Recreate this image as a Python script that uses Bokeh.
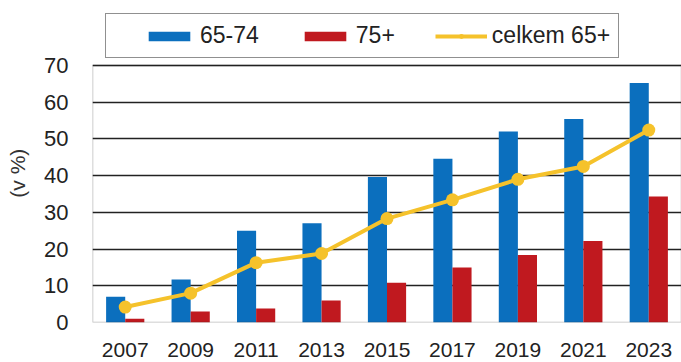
from bokeh.plotting import figure
from bokeh.models import (Range1d, FactorRange, ColumnDataSource, Legend, LegendItem,
                          FixedTicker, BoxAnnotation)
from bokeh.transform import dodge
from bokeh.embed import file_html
from bokeh.resources import INLINE

years = ["2007", "2009", "2011", "2013", "2015", "2017", "2019", "2021", "2023"]
age_65_74 = [7.0, 11.7, 25.0, 27.0, 39.6, 44.6, 52.0, 55.4, 65.2]
age_75_plus = [1.0, 3.0, 3.8, 6.0, 10.8, 15.0, 18.4, 22.2, 34.3]
total_65_plus = [4.2, 8.0, 16.3, 18.8, 28.3, 33.4, 39.0, 42.5, 52.4]
y_ticks = [0, 10, 20, 30, 40, 50, 60, 70]
Y_MAX = 70

BLUE = "#0b6fbe"
RED = "#c0191f"
YELLOW = "#f5c22b"
INK = "#222222"
FONT = "Liberation Sans"

src = ColumnDataSource(dict(year=years, a=age_65_74, b=age_75_plus, t=total_65_plus))

# extra headroom above 70 holds the legend
p = figure(width=681, height=362, x_range=FactorRange(*years), y_range=Range1d(0, 87.7),
           output_backend="svg", toolbar_location=None,
           min_border_left=92, min_border_right=0, min_border_bottom=40, min_border_top=0)

r1 = p.vbar(x=dodge("year", -0.146, range=p.x_range), top="a", width=0.292, source=src,
            fill_color=BLUE, line_color=None)
r2 = p.vbar(x=dodge("year", 0.146, range=p.x_range), top="b", width=0.292, source=src,
            fill_color=RED, line_color=None)
r3 = p.line(x="year", y="t", source=src, line_color=YELLOW, line_width=4)
r4 = p.scatter(x="year", y="t", source=src, size=13, fill_color=YELLOW, line_color=None)

p.x_range.range_padding = 0

# plot-area frame from 0 to 70
p.outline_line_color = None
p.add_layout(BoxAnnotation(bottom=0, top=Y_MAX, fill_alpha=0, line_color=INK,
                           line_width=1.5, level="overlay"))

p.xgrid.grid_line_color = None
p.ygrid.grid_line_color = INK
p.ygrid.grid_line_width = 1.3
p.yaxis.ticker = FixedTicker(ticks=y_ticks)

for ax in (p.xaxis[0], p.yaxis[0]):
    ax.axis_line_color = None
    ax.major_tick_line_color = None
    ax.minor_tick_line_color = None
    ax.major_label_text_font = FONT
    ax.major_label_text_font_size = "22px"
    ax.major_label_text_color = INK

p.xaxis.major_label_text_font_size = "21px"
p.yaxis.major_label_standoff = 18
p.xaxis.major_label_standoff = 14
p.yaxis.axis_label = "(v %)\u00a0\u00a0\u00a0\u00a0"
p.yaxis.axis_label_text_font = FONT
p.yaxis.axis_label_text_font_size = "21px"
p.yaxis.axis_label_text_font_style = "normal"
p.yaxis.axis_label_text_color = "#333333"
p.yaxis.axis_label_standoff = 12

legend = Legend(items=[
    LegendItem(label="65-74", renderers=[r1]),
    LegendItem(label="75+", renderers=[r2]),
    LegendItem(label="celkem 65+", renderers=[r3, r4]),
], orientation="horizontal", location="top_left")
legend.title = " "
legend.title_location = "left"
legend.title_standoff = 24
legend.title_text_font_size = "4px"
legend.label_text_font = FONT
legend.label_text_font_size = "23px"
legend.label_text_color = INK
legend.glyph_width = 52
legend.glyph_height = 12
legend.label_standoff = 5
legend.spacing = 40
legend.padding = 8
legend.margin = 13
legend.border_line_color = INK
legend.border_line_width = 1.5
legend.background_fill_alpha = 0
p.add_layout(legend, "center")

open("out.html", "w").write(file_html(p, INLINE))
